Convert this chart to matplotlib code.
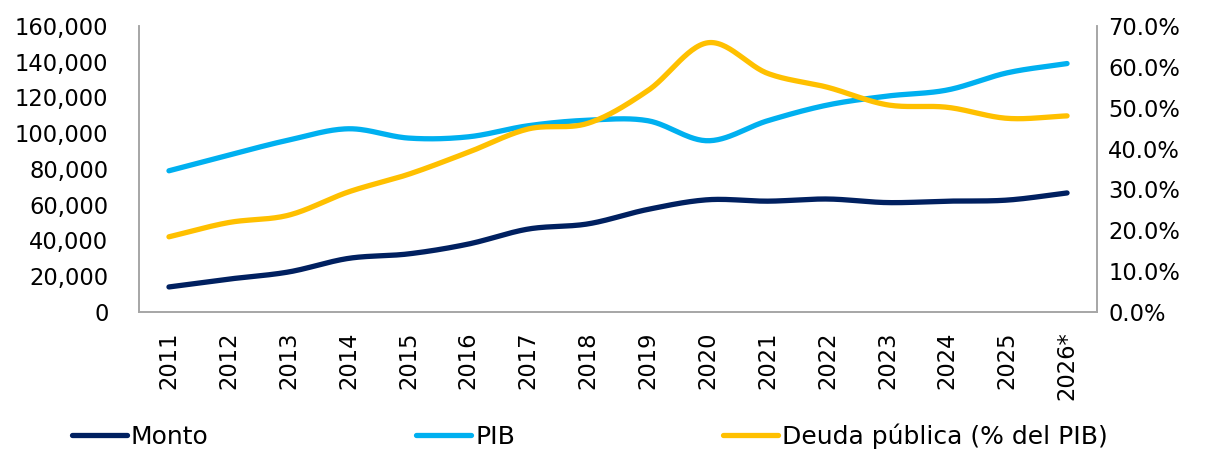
import numpy as np
import matplotlib
matplotlib.use("Agg")
import matplotlib.pyplot as plt
from matplotlib.ticker import FuncFormatter, MultipleLocator

plt.rcParams['font.family'] = ['DejaVu Sans']

years = ["2011", "2012", "2013", "2014", "2015", "2016", "2017", "2018",
         "2019", "2020", "2021", "2022", "2023", "2024", "2025", "2026*"]
monto = [14000, 18400, 22400, 30000, 32500, 38000, 46400, 49300,
         57400, 62800, 62000, 63200, 61200, 62000, 62600, 66600]
pib = [79000, 87800, 96200, 102500, 97300, 98000, 104200, 107300,
       107000, 95800, 107000, 115800, 120800, 124200, 133800, 139000]
deuda = [18.4, 21.9, 23.7, 29.4, 33.7, 39.1, 44.8, 46.2,
         54.2, 65.9, 58.4, 55.0, 50.7, 50.1, 47.4, 48.0]

c_monto = "#002060"
c_pib = "#00B0F0"
c_deuda = "#FFC000"


def smooth(y, n=30):
    # Catmull-Rom spline through the data points (Excel-like smoothed line)
    y = np.asarray(y, dtype=float)
    x = np.arange(len(y), dtype=float)
    p = np.concatenate([[2 * y[0] - y[1]], y, [2 * y[-1] - y[-2]]])
    xs, ys = [], []
    for i in range(len(y) - 1):
        p0, p1, p2, p3 = p[i], p[i + 1], p[i + 2], p[i + 3]
        t = np.linspace(0, 1, n, endpoint=False)
        yy = 0.5 * ((2 * p1) + (-p0 + p2) * t + (2 * p0 - 5 * p1 + 4 * p2 - p3) * t ** 2
                    + (-p0 + 3 * p1 - 3 * p2 + p3) * t ** 3)
        xs.append(x[i] + t)
        ys.append(yy)
    xs.append([x[-1]])
    ys.append([y[-1]])
    return np.concatenate(xs), np.concatenate(ys)


fig = plt.figure(figsize=(12.1, 4.53), dpi=100)
ax = fig.add_axes([0.1149, 0.3113, 0.7917, 0.6313])
ax2 = ax.twinx()

lw = 3.8
x1, y1 = smooth(monto)
l1, = ax.plot(x1, y1, color=c_monto, lw=lw, solid_capstyle='round', label="Monto")
x2, y2 = smooth(pib)
l2, = ax.plot(x2, y2, color=c_pib, lw=lw, solid_capstyle='round', label="PIB")
x3, y3 = smooth(deuda)
l3, = ax2.plot(x3, y3, color=c_deuda, lw=lw, solid_capstyle='round', label="Deuda pública (% del PIB)")

ax.set_xlim(-0.5, len(years) - 0.5)
ax.set_ylim(0, 160000)
ax2.set_ylim(0, 70)
ax.yaxis.set_major_locator(MultipleLocator(20000))
ax2.yaxis.set_major_locator(MultipleLocator(10))
ax.yaxis.set_major_formatter(FuncFormatter(lambda v, p: f"{v:,.0f}"))
ax2.yaxis.set_major_formatter(FuncFormatter(lambda v, p: f"{v:.1f}%"))

ax.set_xticks(range(len(years)))
ax.set_xticklabels(years, rotation=90)

fs = 16.3
for a in (ax, ax2):
    a.tick_params(axis='both', length=0, labelsize=fs, colors='black')
    a.spines['top'].set_visible(False)
    for s in ('left', 'right', 'bottom'):
        a.spines[s].set_color('#A6A6A6')
        a.spines[s].set_linewidth(1.2)
ax.tick_params(axis='y', pad=22)
ax.tick_params(axis='x', pad=14)
ax2.tick_params(axis='y', pad=8)

fig.legend(handles=[l1, l2, l3], loc='center left', bbox_to_anchor=(0.0595, 0.0375),
           ncol=3, frameon=False, fontsize=18, handlelength=2.2, borderpad=0,
           handletextpad=0.16, columnspacing=8.3, borderaxespad=0)

fig.savefig("out.png", dpi=100)
